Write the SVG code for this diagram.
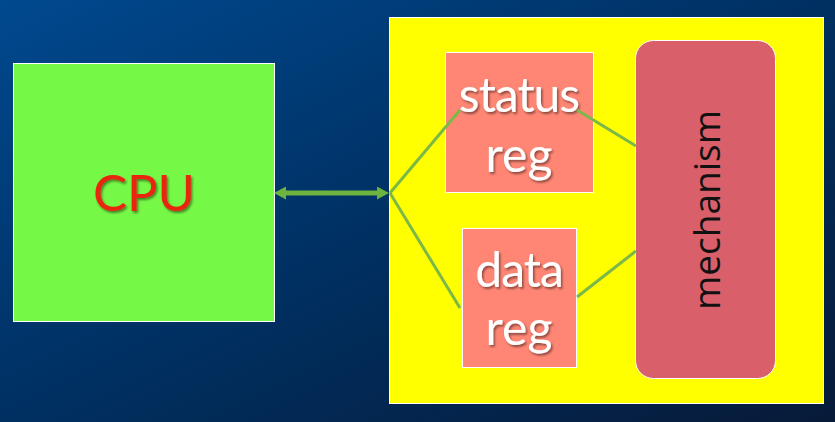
<svg xmlns="http://www.w3.org/2000/svg" width="835" height="422" viewBox="0 0 835 422">
  <defs>
    <linearGradient id="bg" x1="0" y1="0" x2="1" y2="1">
      <stop offset="0" stop-color="#00498F"/>
      <stop offset="0.5" stop-color="#003062"/>
      <stop offset="1" stop-color="#071A38"/>
    </linearGradient>
    <filter id="shadow" x="-20%" y="-20%" width="140%" height="140%">
      <feDropShadow dx="1.5" dy="2" stdDeviation="1.2" flood-color="#000" flood-opacity="0.45"/>
    </filter>
    <marker id="ah" viewBox="0 0 12 13" refX="0" refY="6.5" markerWidth="12" markerHeight="13" markerUnits="userSpaceOnUse" orient="auto-start-reverse">
      <path d="M0,0 L12,6.5 L0,13 Z" fill="#6DB33F"/>
    </marker>
  </defs>
  <style>
    .box { stroke: #FFFFFF; stroke-width: 1; }
    .reg { fill: #FF8674; }
    .regtxt { font-family: Lato, "Noto Sans", sans-serif; font-size: 48px; fill: #FFFFFF; text-anchor: middle; filter: url(#shadow); }
    .conn { stroke: #7BB848; stroke-width: 3; fill: none; }
  </style>
  <rect x="0" y="0" width="835" height="422" fill="url(#bg)"/>

  <g id="cpu">
    <rect class="box" x="13.5" y="63.5" width="261" height="258" fill="#76F846"/>
    <text x="144" y="211" font-family="Lato, 'Noto Sans', sans-serif" font-size="51" fill="#E8250C" text-anchor="middle" filter="url(#shadow)">CPU</text>
  </g>

  <g id="device">
    <rect class="box" x="389.5" y="17.5" width="434" height="386" fill="#FFFF00"/>
  </g>

  <g id="status-reg">
    <rect class="box reg" x="445.5" y="52.5" width="148" height="140"/>
    <text class="regtxt" x="519" y="112" letter-spacing="-1">status</text>
    <text class="regtxt" x="519" y="172">reg</text>
  </g>

  <g id="data-reg">
    <rect class="box reg" x="462.5" y="228.5" width="114" height="139"/>
    <text class="regtxt" x="519" y="287" letter-spacing="-1">data</text>
    <text class="regtxt" x="519" y="345">reg</text>
  </g>

  <g id="mechanism">
    <rect class="box" x="635.5" y="40.5" width="140" height="338" rx="18" ry="18" fill="#D9606A"/>
    <text transform="translate(720,210) rotate(-90)" x="0" y="0" font-family="'Open Sans', 'DejaVu Sans', sans-serif" font-size="37" fill="#111111" text-anchor="middle">mechanism</text>
  </g>

  <g id="connectors">
    <line x1="286" y1="193" x2="377" y2="193" stroke="#6DB33F" stroke-width="5" marker-start="url(#ah)" marker-end="url(#ah)"/>
    <line class="conn" x1="390" y1="193" x2="460" y2="110"/>
    <line class="conn" x1="390" y1="193" x2="460" y2="308"/>
    <line class="conn" x1="577" y1="110" x2="636" y2="146"/>
    <line class="conn" x1="577" y1="297" x2="636" y2="251"/>
  </g>
</svg>
